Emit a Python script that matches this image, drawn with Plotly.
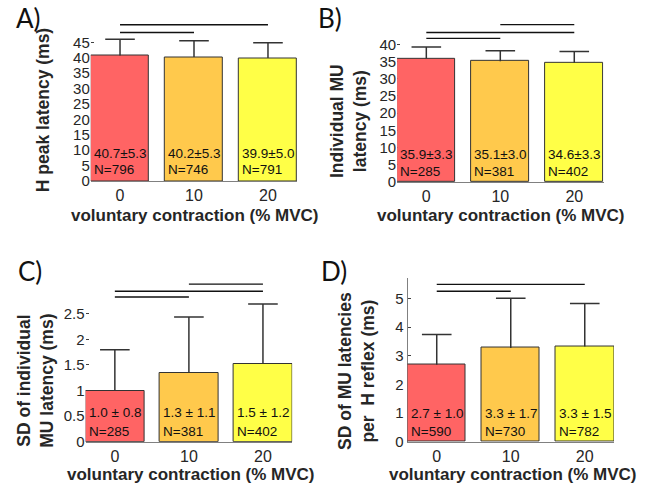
import plotly.graph_objects as go

W, H = 652, 493

conditions = [0, 10, 20]
bar_colors = ["#FF6464", "#FFC94C", "#FFFF47"]

A_mean = [40.7, 40.2, 39.9]
A_sd = [5.3, 5.3, 5.0]
A_labels = ["40.7±5.3", "40.2±5.3", "39.9±5.0"]
A_n = [796, 746, 791]

B_mean = [35.9, 35.1, 34.6]
B_sd = [3.3, 3.0, 3.3]
B_labels = ["35.9±3.3", "35.1±3.0", "34.6±3.3"]
B_n = [285, 381, 402]

C_mean = [1.0, 1.35, 1.52]
C_sd = [0.8, 1.09, 1.17]
C_labels = ["1.0 ± 0.8", "1.3 ± 1.1", "1.5 ± 1.2"]
C_n = [285, 381, 402]

D_mean = [2.69, 3.27, 3.32]
D_sd = [1.05, 1.74, 1.5]
D_labels = ["2.7 ± 1.0", "3.3 ± 1.7", "3.3 ± 1.5"]
D_n = [590, 730, 782]

# significance comparisons: (from condition, to condition, level)
A_sig = [(0, 20, 50.7), (0, 10, 48.2)]
B_sig = [(10, 20, 45.7), (0, 20, 43.4), (0, 10, 41.7)]
C_sig = [(10, 20, 3.08), (0, 20, 2.94), (0, 10, 2.83)]
D_sig = [(0, 20, 5.49), (0, 10, 5.25)]

A_ticks = [0, 5, 10, 15, 20, 25, 30, 35, 40, 45]
B_ticks = [0, 5, 10, 15, 20, 25, 30, 35, 40]
C_ticks = [0, 0.5, 1, 1.5, 2, 2.5]
C_ticktext = ["0", "0.5", "1", "1.5", "2", "2.5"]
D_ticks = [0, 1, 2, 3, 4, 5]

A_ytitle = "H peak latency (ms)"
B_ytitle = "Individual MU<br>latency (ms)"
C_ytitle = "SD of individual<br>MU latency (ms)"
D_ytitle = "SD of MU latencies<br>per  H reflex (ms)"
xtitle = "voluntary contraction (% MVC)"

BW = 7.9
CAP = 2.0
XR = [-BW / 2, 20 + BW / 2]
TXT = "#262626"
FONT = "Liberation Sans, Arial, sans-serif"

def px_dom(a, b, total):
    return [a / total, b / total]

def ydom(top_px, bot_px):
    return [1 - bot_px / H, 1 - top_px / H]

panels = [
    dict(mean=A_mean, sd=A_sd, labels=A_labels, n=A_n, sig=A_sig, ticks=A_ticks, ticktext=None,
         xd=px_dom(90.8, 297.2, W), yd=ydom(11.7, 184), yr=[0, 55], axline=False,
         t1=18, t2=2, ytitle=A_ytitle, ytx=43, yty=112, xtx=194, xty=219,
         letter="A)", lx=14, ly=18),
    dict(mean=B_mean, sd=B_sd, labels=B_labels, n=B_n, sig=B_sig, ticks=B_ticks, ticktext=None,
         xd=px_dom(397.1, 603.5, W), yd=ydom(10, 185), yr=[0, 50], axline=False,
         t1=18, t2=1, ytitle=B_ytitle, ytx=348, yty=123, xtx=500, xty=219,
         letter="B)", lx=316, ly=18),
    dict(mean=C_mean, sd=C_sd, labels=C_labels, n=C_n, sig=C_sig, ticks=C_ticks, ticktext=C_ticktext,
         xd=px_dom(85.6, 292.2, W), yd=ydom(282.6, 449), yr=[0, 3.2], axline=False,
         t1=20, t2=1, ytitle=C_ytitle, ytx=36, yty=387, xtx=190, xty=482,
         letter="C)", lx=16, ly=275),
    dict(mean=D_mean, sd=D_sd, labels=D_labels, n=D_n, sig=D_sig, ticks=D_ticks, ticktext=None,
         xd=px_dom(407.5, 614, W), yd=ydom(282.1, 449), yr=[0, 5.73], axline=True,
         t1=19, t2=1, ytitle=D_ytitle, ytx=357, yty=377, xtx=512, xty=482,
         letter="D)", lx=319, ly=275),
]

fig = go.Figure()
annotations = []
layout = {}

for i, p in enumerate(panels):
    sfx = "" if i == 0 else str(i + 1)
    xa, ya = "x" + sfx, "y" + sfx
    fig.add_trace(go.Bar(
        x=conditions, y=p["mean"], width=BW, xaxis=xa, yaxis=ya,
        marker=dict(color=bar_colors, line=dict(color="#333333", width=1)),
        showlegend=False, hoverinfo="skip",
    ))
    # upper error bars: stem + cap
    ex, ey = [], []
    for c, m, s in zip(conditions, p["mean"], p["sd"]):
        ex += [c, c, None, c - CAP, c + CAP, None]
        ey += [m, m + s, None, m + s, m + s, None]
    fig.add_trace(go.Scatter(
        x=ex, y=ey, mode="lines", xaxis=xa, yaxis=ya,
        line=dict(color="#333333", width=1.5), showlegend=False, hoverinfo="skip",
    ))
    for (a, b, lev) in p["sig"]:
        fig.add_trace(go.Scatter(
            x=[a, b], y=[lev, lev], mode="lines", xaxis=xa, yaxis=ya,
            line=dict(color="#111111", width=1.4), showlegend=False, hoverinfo="skip",
        ))
    layout["xaxis" + sfx] = dict(
        domain=p["xd"], range=XR, anchor=ya, tickvals=conditions,
        ticktext=[str(c) for c in conditions], ticks="", showgrid=False, zeroline=False,
        showline=True, linecolor="#808080", linewidth=1, layer="below traces",
        tickfont=dict(family=FONT, size=16, color=TXT), fixedrange=True,
    )
    ydict = dict(
        domain=p["yd"], range=p["yr"], anchor=xa, tickvals=p["ticks"],
        ticks="inside", ticklen=3, tickcolor="#404040", showgrid=False, zeroline=False,
        showline=p["axline"], linecolor="#808080", linewidth=1, layer="below traces",
        tickfont=dict(family=FONT, size=15, color=TXT), fixedrange=True,
    )
    if p["ticktext"]:
        ydict["ticktext"] = p["ticktext"]
    layout["yaxis" + sfx] = ydict

    for j, c in enumerate(conditions):
        annotations.append(dict(
            x=c - BW / 2, y=0, xref=xa, yref=ya, xanchor="left", yanchor="bottom",
            text=p["labels"][j], showarrow=False, xshift=1, yshift=p["t1"],
            font=dict(family=FONT, size=13.5, color="#111111"),
        ))
        annotations.append(dict(
            x=c - BW / 2, y=0, xref=xa, yref=ya, xanchor="left", yanchor="bottom",
            text="N=%d" % p["n"][j], showarrow=False, xshift=1, yshift=p["t2"],
            font=dict(family=FONT, size=13.5, color="#111111"),
        ))
    annotations.append(dict(
        x=p["ytx"] / W, y=1 - p["yty"] / H, xref="paper", yref="paper",
        xanchor="center", yanchor="middle", text="<b>" + p["ytitle"] + "</b>",
        textangle=-90, showarrow=False,
        font=dict(family=FONT, size=17.5, color=TXT),
    ))
    annotations.append(dict(
        x=p["xtx"] / W, y=1 - p["xty"] / H, xref="paper", yref="paper",
        xanchor="center", yanchor="middle", text="<b>" + xtitle + "</b>",
        showarrow=False, font=dict(family=FONT, size=17, color=TXT),
    ))
    annotations.append(dict(
        x=p["lx"] / W, y=1 - p["ly"] / H, xref="paper", yref="paper",
        xanchor="left", yanchor="middle", text=p["letter"], showarrow=False,
        font=dict(family="Lato, Open Sans, sans-serif", size=26, color="#111111"),
    ))

fig.update_layout(
    width=W, height=H, margin=dict(l=0, r=0, t=0, b=0),
    paper_bgcolor="white", plot_bgcolor="white",
    annotations=annotations, bargap=0, **layout,
)

fig.write_html("out.html", config={"displayModeBar": False})
